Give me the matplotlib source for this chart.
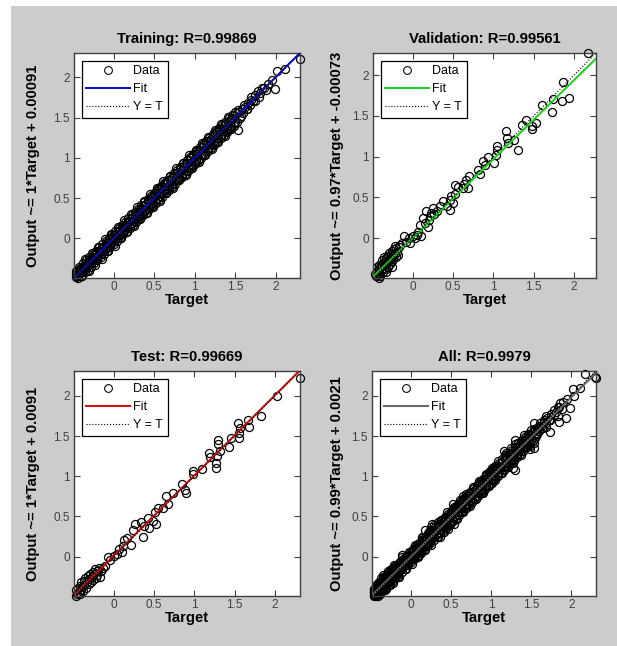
import numpy as np
import matplotlib.pyplot as plt
from matplotlib.patches import Rectangle
from matplotlib.lines import Line2D

plt.rcParams['font.family'] = ['Liberation Sans', 'DejaVu Sans']

# --- data: targets and network outputs ---
train_t = [-0.47, -0.46, -0.45, -0.45, -0.44, -0.43, -0.43, -0.42, -0.41, -0.40,
           -0.40, -0.39, -0.38, -0.37, -0.37, -0.36, -0.35, -0.34, -0.33, -0.33,
           -0.32, -0.31, -0.30, -0.29, -0.28, -0.28, -0.27, -0.26, -0.25, -0.24,
           -0.23, -0.22, -0.21, -0.20, -0.19, -0.18, -0.17, -0.16, -0.15, -0.14,
           -0.13, -0.12, -0.11, -0.10, -0.09, -0.08, -0.07, -0.06, -0.05, -0.04,
           -0.03, -0.02, -0.01, 0.00, 0.01, 0.02, 0.03, 0.04, 0.05, 0.06,
           0.07, 0.08, 0.09, 0.10, 0.11, 0.12, 0.13, 0.14, 0.15, 0.16,
           0.17, 0.18, 0.19, 0.20, 0.21, 0.22, 0.23, 0.24, 0.25, 0.26,
           0.27, 0.28, 0.29, 0.30, 0.31, 0.32, 0.33, 0.34, 0.35, 0.36,
           0.37, 0.38, 0.39, 0.40, 0.41, 0.42, 0.43, 0.44, 0.45, 0.46,
           0.47, 0.48, 0.49, 0.50, 0.51, 0.52, 0.53, 0.54, 0.55, 0.56,
           0.57, 0.58, 0.59, 0.60, 0.62, 0.63, 0.64, 0.65, 0.66, 0.67,
           0.68, 0.70, 0.71, 0.72, 0.73, 0.75, 0.76, 0.77, 0.78, 0.80,
           0.81, 0.82, 0.84, 0.85, 0.86, 0.88, 0.89, 0.90, 0.92, 0.93,
           0.94, 0.96, 0.97, 0.98, 1.00, 1.01, 1.02, 1.04, 1.05, 1.06,
           1.08, 1.09, 1.10, 1.12, 1.13, 1.14, 1.16, 1.17, 1.18, 1.20,
           1.21, 1.22, 1.24, 1.25, 1.26, 1.28, 1.29, 1.30, 1.32, 1.33,
           1.34, 1.36, 1.37, 1.38, 1.40, 1.41, 1.42, 1.44, 1.45, 1.46,
           1.48, 1.49, 1.50, 1.52, 1.53, 1.55, 1.56, 1.58, 1.60, 1.62,
           1.64, 1.66, 1.68, 1.70, 1.72, 1.75, 1.78, 1.81, 1.85, 1.88,
           1.90, 1.95, 1.99, 2.02, 2.11, 2.30,
           # edges of the dense band
           -0.46, -0.44, -0.42, -0.40, -0.38, -0.36, -0.34, -0.32, -0.30, -0.28,
           -0.26, -0.24, -0.22, -0.20, -0.18, -0.16, -0.14, -0.12, -0.10, -0.08,
           -0.06, -0.04, -0.02, 0.00, 0.02, 0.04, 0.06, 0.08, 0.10, 0.12,
           0.14, 0.16, 0.18, 0.20, 0.22, 0.24, 0.26, 0.28, 0.30, 0.32,
           0.34, 0.36, 0.38, 0.40, 0.42, 0.44, 0.46, 0.48, 0.50, 0.52,
           0.54, 0.56, 0.58, 0.60, 0.62, 0.64, 0.66, 0.68, 0.70, 0.72,
           0.74, 0.76, 0.78, 0.80, 0.82, 0.84, 0.86, 0.88, 0.90, 0.92,
           0.94, 0.96, 0.98, 1.00, 1.02, 1.04, 1.06, 1.08, 1.10, 1.12,
           1.14, 1.16, 1.18, 1.20, 1.22, 1.24, 1.26, 1.28, 1.30, 1.32,
           1.34, 1.36, 1.38, 1.40, 1.42, 1.44, 1.46, 1.48, 1.50, 1.52,
           1.54, 1.57, 1.61, 1.65, 1.69, 1.74, 1.79, 1.83,
           # stray points outside the band
           -0.43, -0.39, -0.35, -0.31, -0.27, -0.23, -0.19, -0.15, -0.11, -0.07,
           -0.03, 0.01, 0.05, 0.09, 0.13, 0.17, 0.21, 0.25, 0.29, 0.33,
           0.37, 0.41, 0.45, 0.49, 0.53, 0.57, 0.61, 0.65, 0.69, 0.73,
           0.77, 0.81, 0.85, 0.89, 0.93, 0.97, 1.01, 1.05, 1.09, 1.13,
           1.17, 1.21, 1.25, 1.29, 1.33, 1.37, 1.41, 1.45]
train_y = [-0.48, -0.44, -0.46, -0.42, -0.45, -0.41, -0.44, -0.40, -0.43, -0.38,
           -0.42, -0.36, -0.40, -0.34, -0.39, -0.37, -0.32, -0.37, -0.30, -0.35,
           -0.33, -0.29, -0.32, -0.26, -0.30, -0.25, -0.29, -0.23, -0.27, -0.21,
           -0.26, -0.19, -0.24, -0.17, -0.22, -0.15, -0.20, -0.13, -0.18, -0.10,
           -0.16, -0.09, -0.14, -0.06, -0.12, -0.05, -0.10, -0.03, -0.08, -0.01,
           -0.06, 0.02, -0.04, 0.05, -0.02, 0.06, 0.00, 0.08, 0.01, 0.09,
           0.04, 0.11, 0.06, 0.13, 0.08, 0.15, 0.10, 0.17, 0.12, 0.19,
           0.14, 0.21, 0.16, 0.22, 0.18, 0.25, 0.19, 0.27, 0.22, 0.29,
           0.23, 0.31, 0.25, 0.33, 0.27, 0.36, 0.29, 0.38, 0.31, 0.40,
           0.33, 0.41, 0.35, 0.43, 0.37, 0.46, 0.39, 0.48, 0.41, 0.50,
           0.42, 0.52, 0.44, 0.54, 0.46, 0.57, 0.49, 0.59, 0.50, 0.61,
           0.53, 0.62, 0.55, 0.64, 0.57, 0.67, 0.60, 0.69, 0.62, 0.71,
           0.64, 0.73, 0.66, 0.76, 0.69, 0.78, 0.71, 0.81, 0.73, 0.83,
           0.76, 0.86, 0.79, 0.89, 0.81, 0.92, 0.84, 0.94, 0.87, 0.97,
           0.89, 1.00, 0.91, 1.03, 0.95, 1.05, 0.97, 1.08, 0.99, 1.10,
           1.03, 1.13, 1.05, 1.16, 1.08, 1.18, 1.11, 1.21, 1.13, 1.23,
           1.16, 1.27, 1.19, 1.29, 1.21, 1.32, 1.24, 1.34, 1.27, 1.37,
           1.29, 1.40, 1.32, 1.42, 1.35, 1.45, 1.37, 1.47, 1.40, 1.50,
           1.42, 1.53, 1.45, 1.55, 1.35, 1.57, 1.50, 1.60, 1.56, 1.63,
           1.60, 1.68, 1.66, 1.72, 1.70, 1.78, 1.83, 1.80, 1.86, 1.84,
           1.92, 1.96, 1.85, 2.08, 2.10, 2.23,
           -0.40, -0.49, -0.36, -0.46, -0.31, -0.42, -0.27, -0.39, -0.23, -0.35,
           -0.19, -0.31, -0.15, -0.27, -0.11, -0.23, -0.07, -0.19, -0.03, -0.15,
           0.01, -0.11, 0.05, -0.07, 0.09, -0.03, 0.13, 0.01, 0.17, 0.05,
           0.21, 0.09, 0.25, 0.13, 0.29, 0.17, 0.33, 0.21, 0.37, 0.25,
           0.41, 0.29, 0.45, 0.32, 0.49, 0.36, 0.53, 0.40, 0.57, 0.44,
           0.61, 0.48, 0.65, 0.52, 0.69, 0.56, 0.73, 0.60, 0.77, 0.64,
           0.81, 0.68, 0.85, 0.72, 0.89, 0.76, 0.93, 0.80, 0.97, 0.84,
           1.01, 0.88, 1.05, 0.92, 1.09, 0.96, 1.13, 1.00, 1.17, 1.04,
           1.21, 1.08, 1.25, 1.12, 1.29, 1.16, 1.33, 1.20, 1.37, 1.24,
           1.41, 1.28, 1.45, 1.32, 1.49, 1.36, 1.53, 1.40, 1.57, 1.44,
           1.59, 1.52, 1.66, 1.60, 1.75, 1.70, 1.76, 1.86,
           -0.35, -0.47, -0.25, -0.40, -0.18, -0.33, -0.11, -0.25, -0.01, -0.16,
           0.06, -0.09, 0.14, 0.00, 0.23, 0.08, 0.30, 0.15, 0.39, 0.24,
           0.46, 0.31, 0.55, 0.39, 0.62, 0.47, 0.71, 0.56, 0.78, 0.63,
           0.87, 0.72, 0.94, 0.79, 1.03, 0.88, 1.10, 0.95, 1.19, 1.04,
           1.26, 1.11, 1.35, 1.20, 1.42, 1.27, 1.51, 1.36]

val_t = [-0.46, -0.45, -0.44, -0.43, -0.42, -0.42, -0.41, -0.40, -0.40, -0.39,
         -0.38, -0.37, -0.37, -0.36, -0.35, -0.34, -0.33, -0.33, -0.32, -0.31,
         -0.30, -0.30, -0.29, -0.28, -0.27, -0.27, -0.26, -0.25, -0.24, -0.24,
         -0.23, -0.22, -0.21, -0.20, -0.19, -0.17, -0.15, -0.13,
         -0.11, -0.05, -0.03, 0.01, 0.05, 0.10, 0.09, 0.15, 0.13, 0.17,
         0.23, 0.25, 0.34, 0.38, 0.42, 0.46, 0.46, 0.48, 0.50, 0.52,
         0.52, 0.56, 0.62, 0.69, 0.64, 0.66, 0.70, 0.83, 0.81, 0.89,
         0.87, 0.93, 1.01, 1.03, 1.05, 1.05, 1.18, 1.17, 1.16, 1.26,
         1.30, 1.36, 1.40, 1.48, 1.48, 1.53, 1.60, 1.73, 1.74, 1.86,
         1.93, 1.85, 2.17,
         0.20, 0.22, 0.19, 0.27, 0.30, -0.08, 0.03, 0.07,
         -0.44, -0.41, -0.38, -0.35, -0.33, -0.29, -0.26, -0.22, -0.18]
val_y = [-0.44, -0.47, -0.40, -0.45, -0.49, -0.38, -0.43, -0.36, -0.47, -0.40,
         -0.34, -0.42, -0.30, -0.37, -0.33, -0.28, -0.38, -0.25, -0.31, -0.35,
         -0.22, -0.29, -0.26, -0.32, -0.19, -0.24, -0.28, -0.16, -0.21, -0.26,
         -0.14, -0.19, -0.23, -0.12, -0.17, -0.11, -0.08, -0.06,
         0.02, 0.00, -0.06, 0.02, 0.04, 0.02, 0.16, 0.19, 0.25, 0.33,
         0.31, 0.37, 0.39, 0.45, 0.39, 0.47, 0.35, 0.52, 0.43, 0.54,
         0.65, 0.63, 0.61, 0.61, 0.66, 0.71, 0.76, 0.79, 0.84, 0.90,
         0.94, 1.00, 0.92, 1.02, 1.08, 1.13, 1.16, 1.23, 1.31, 1.20,
         1.08, 1.39, 1.45, 1.34, 1.38, 1.41, 1.63, 1.55, 1.70, 1.91,
         1.72, 1.68, 2.27,
         0.22, 0.27, 0.14, 0.30, 0.33, -0.05, 0.00, 0.08,
         -0.35, -0.33, -0.27, -0.23, -0.42, -0.18, -0.35, -0.10, -0.21]

test_t = [-0.47, -0.46, -0.45, -0.44, -0.43, -0.42, -0.41, -0.40, -0.40, -0.39,
          -0.38, -0.37, -0.36, -0.35, -0.34, -0.33, -0.32, -0.31, -0.30, -0.29,
          -0.28, -0.27, -0.26, -0.25, -0.24, -0.23, -0.22, -0.21, -0.20, -0.18,
          -0.17, -0.15, -0.13, -0.11, -0.07, -0.05, 0.01, 0.04, 0.07, 0.10,
          0.12, 0.13, 0.17, 0.21, 0.24, 0.26, 0.34, 0.36, 0.38, 0.43,
          0.44, 0.49, 0.53, 0.51, 0.55, 0.61, 0.65, 0.68, 0.74, 0.85,
          0.90, 0.88, 0.98, 0.98, 1.09, 1.18, 1.19, 1.27, 1.27, 1.28,
          1.30, 1.30, 1.32, 1.43, 1.45, 1.54, 1.55, 1.56, 1.57, 1.66,
          1.68, 1.83, 2.03, 2.31]
test_y = [-0.49, -0.42, -0.46, -0.39, -0.44, -0.47, -0.36, -0.41, -0.32, -0.38,
          -0.43, -0.30, -0.35, -0.27, -0.39, -0.31, -0.24, -0.34, -0.28, -0.21,
          -0.32, -0.25, -0.19, -0.29, -0.22, -0.15, -0.26, -0.18, -0.23, -0.14,
          -0.25, -0.18, -0.14, -0.12, -0.01, -0.04, 0.01, 0.03, 0.09, 0.06,
          0.13, 0.21, 0.23, 0.14, 0.33, 0.41, 0.43, 0.25, 0.38, 0.48,
          0.36, 0.44, 0.41, 0.56, 0.61, 0.60, 0.75, 0.65, 0.79, 0.91,
          0.79, 0.83, 1.03, 1.07, 1.09, 1.29, 1.24, 1.10, 1.17, 1.25,
          1.40, 1.45, 1.32, 1.36, 1.48, 1.66, 1.48, 1.54, 1.60, 1.70,
          1.61, 1.75, 2.00, 2.22]

# "All" is the union of the three sets
all_t = train_t + val_t + test_t
all_y = train_y + val_y + test_y

targets = [train_t, val_t, test_t, all_t]
outputs = [train_y, val_y, test_y, all_y]
titles = ['Training: R=0.99869', 'Validation: R=0.99561',
          'Test: R=0.99669', 'All: R=0.9979']
ylabels = ['Output ~= 1*Target + 0.00091', 'Output ~= 0.97*Target + -0.00073',
           'Output ~= 1*Target + 0.0091', 'Output ~= 0.99*Target + 0.0021']
fit_slope = [1.0, 0.97, 1.0, 0.99]
fit_icpt = [0.00091, -0.00073, 0.0091, 0.0021]
fit_colors = ['#1212c8', '#22d022', '#cc1414', '#686868']
tick_vals = [0, 0.5, 1, 1.5, 2]
tick_labels = ['0', '0.5', '1', '1.5', '2']

W, H = 617, 646
fig = plt.figure(figsize=(W / 100, H / 100), dpi=100, facecolor='white')
fig.patches.append(Rectangle((11 / W, 0), 1 - 11 / W, 1 - 6 / H,
                             transform=fig.transFigure, facecolor='#cccccc',
                             edgecolor='none', zorder=-10))

# axes boxes in pixels: left, top, right, bottom
boxes = [(74, 53, 300, 278), (373, 53, 596, 278),
         (74, 371, 300, 596), (372, 371, 596, 596)]
ylab_x = [33, 337, 33, 337]

for i in range(4):
    l, t, r, b = boxes[i]
    ax = fig.add_axes([l / W, 1 - b / H, (r - l) / W, (b - t) / H])
    tt = np.array(targets[i])
    yy = np.array(outputs[i])
    lo = min(tt.min(), yy.min())
    hi = max(tt.max(), yy.max())

    ax.plot(tt, yy, 'o', mfc='none', mec='black', ms=5.8, mew=0.9,
            clip_on=False, zorder=2)
    xs = np.array([lo, hi])
    ax.plot(xs, fit_slope[i] * xs + fit_icpt[i], '-', color=fit_colors[i],
            lw=1.5, zorder=3)
    ax.plot(xs, xs, ':', color='black', lw=0.8, zorder=4)

    ax.set_xlim(lo, hi)
    ax.set_ylim(lo, hi)
    ax.set_xticks(tick_vals)
    ax.set_xticklabels(tick_labels)
    ax.set_yticks(tick_vals)
    ax.set_yticklabels(tick_labels)
    ax.tick_params(direction='in', length=4, width=0.8, color='#404040',
                   labelcolor='#404040', labelsize=8.5, top=True, right=True)
    ax.tick_params(axis='x', pad=2.5)
    ax.tick_params(axis='y', pad=3)
    for sp in ax.spines.values():
        sp.set_color('#404040')
        sp.set_linewidth(1.0)

    ax.set_title(titles[i], fontsize=10.7, fontweight='bold', pad=7)
    ax.set_xlabel('Target', fontsize=10.7, fontweight='bold')
    ax.xaxis.set_label_coords(0.5, -15 / (b - t))
    ax.set_ylabel(ylabels[i], fontsize=10.7, fontweight='bold', va='center')
    ax.yaxis.set_label_coords((ylab_x[i] - l) / (r - l), 0.5)

    handles = [Line2D([], [], marker='o', ls='none', mfc='none', mec='black',
                      ms=5.6, mew=0.75),
               Line2D([], [], color=fit_colors[i], lw=1.5),
               Line2D([], [], color='black', ls=':', lw=0.8)]
    leg = ax.legend(handles, ['Data', 'Fit', 'Y = T'], loc='upper left',
                    fontsize=9, frameon=True, fancybox=False,
                    handlelength=3.5, handletextpad=0.3, borderpad=0.35,
                    labelspacing=0.5, borderaxespad=0.6, framealpha=1)
    leg.get_frame().set_edgecolor('black')
    leg.get_frame().set_linewidth(0.9)

fig.savefig('out.png', dpi=100, facecolor=fig.get_facecolor())
